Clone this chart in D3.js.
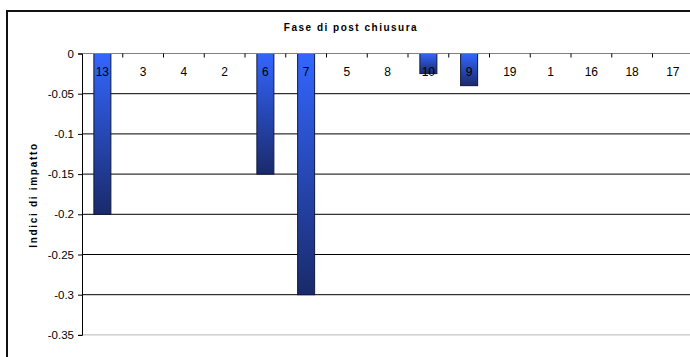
<!DOCTYPE html>
<html>
<head>
<meta charset="utf-8">
<script src="https://cdn.jsdelivr.net/npm/d3@7"></script>
<style>
  html, body { margin: 0; padding: 0; background: #fff; }
  svg { display: block; font-family: "Liberation Sans", Arial, sans-serif; }
</style>
</head>
<body>
<svg id="chart" width="690" height="357"></svg>
<script>
const categories = ["13","3","4","2","6","7","5","8","10","9","19","1","16","18","17"];
const values = [-0.2, 0, 0, 0, -0.15, -0.3, 0, 0, -0.025, -0.04, 0, 0, 0, 0, 0];
const yTicks = [0, -0.05, -0.1, -0.15, -0.2, -0.25, -0.3, -0.35];
const yTickLabels = ["0", "-0.05", "-0.1", "-0.15", "-0.2", "-0.25", "-0.3", "-0.35"];
const chartTitle = "Fase di post chiusura";
const yTitle = "Indici di impatto";

const svg = d3.select("#chart");
const plot = { left: 82, top: 53.5, right: 82 + 15 * 40.75, bottom: 334.9 };

const x = d3.scaleBand().domain(categories).range([plot.left, plot.right]).paddingInner(0).paddingOuter(0);
const y = d3.scaleLinear().domain([0, -0.35]).range([plot.top, plot.bottom]);

// outer chart frame (continues beyond the window on the right and bottom)
svg.append("rect").attr("x", 7).attr("y", 11).attr("width", 700).attr("height", 400)
  .attr("fill", "none").attr("stroke", "#111").attr("stroke-width", 2);

// gradient
const defs = svg.append("defs");
const grad = defs.append("linearGradient").attr("id", "barGrad")
  .attr("x1", 0).attr("y1", 0).attr("x2", 0).attr("y2", 1);
grad.append("stop").attr("offset", "0%").attr("stop-color", "#3366ff");
grad.append("stop").attr("offset", "100%").attr("stop-color", "#1a2a6a");

// gridlines
svg.append("g").selectAll("line")
  .data(yTicks.filter(d => d !== 0))
  .join("line")
  .attr("x1", plot.left).attr("x2", plot.right)
  .attr("y1", d => y(d)).attr("y2", d => y(d))
  .attr("stroke", d => d === -0.35 ? "#b8b8b8" : "#000")
  .attr("stroke-width", 1);

// title
svg.append("text")
  .attr("x", 351).attr("y", 30.5)
  .attr("text-anchor", "middle")
  .attr("font-size", 10).attr("font-weight", "bold")
  .attr("letter-spacing", 1.5)
  .text(chartTitle);

// y-axis title
svg.append("text")
  .attr("transform", "translate(36.5,195) rotate(-90)")
  .attr("text-anchor", "middle")
  .attr("font-size", 10).attr("font-weight", "bold")
  .attr("letter-spacing", 1.7)
  .text(yTitle);

// bars
const barW = 17;
svg.append("g").selectAll("rect")
  .data(categories.map((c, i) => ({ c, v: values[i] })).filter(d => d.v !== 0))
  .join("rect")
  .attr("x", d => x(d.c) + (x.bandwidth() - barW) / 2)
  .attr("y", d => y(0))
  .attr("width", barW)
  .attr("height", d => y(d.v) - y(0))
  .attr("fill", "url(#barGrad)")
  .attr("stroke", "#10183a").attr("stroke-width", 1);

// x axis at zero (top), ticks pointing down
const xAxis = svg.append("g");
xAxis.append("line")
  .attr("x1", plot.left).attr("x2", plot.right)
  .attr("y1", y(0)).attr("y2", y(0))
  .attr("stroke", "#808080").attr("stroke-width", 1.2);
xAxis.selectAll("line.tick")
  .data(categories.slice(1))
  .join("line").attr("class", "tick")
  .attr("x1", d => x(d)).attr("x2", d => x(d))
  .attr("y1", y(0)).attr("y2", y(0) + 4)
  .attr("stroke", "#000").attr("stroke-width", 1);

// category labels
svg.append("g").selectAll("text")
  .data(categories)
  .join("text")
  .attr("x", d => x(d) + x.bandwidth() / 2)
  .attr("y", y(0) + 22.5)
  .attr("text-anchor", "middle")
  .attr("font-size", 12)
  .attr("fill", "#000")
  .text(d => d);

// y axis
const yAxis = d3.axisLeft(y).tickValues(yTicks)
  .tickFormat((d, i) => yTickLabels[i]).tickSize(4).tickPadding(4);
const gy = svg.append("g").attr("transform", `translate(${plot.left},0)`).call(yAxis);
gy.select(".domain").attr("stroke", "#000");
gy.selectAll(".tick line").attr("stroke", "#000");
gy.selectAll(".tick text").attr("font-size", 11.5).attr("fill", "#000")
  .attr("font-family", "Liberation Sans, Arial, sans-serif");
</script>
</body>
</html>
